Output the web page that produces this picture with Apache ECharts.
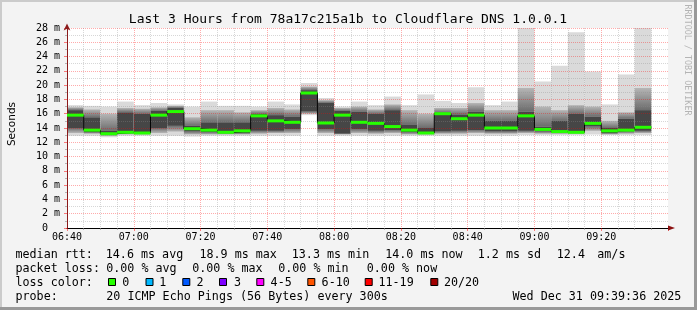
<!DOCTYPE html>
<html><head><meta charset="utf-8">
<script src="https://cdn.jsdelivr.net/npm/echarts@6/dist/echarts.min.js"></script>
<style>html,body{margin:0;padding:0;background:#f3f3f3;}#c{width:697px;height:310px;}</style>
</head><body><div id="c"></div>
<script>
// ---- data (ms) ----
const sampleTimes = ['06:40','06:45','06:50','06:55','07:00','07:05','07:10','07:15','07:20','07:25','07:30','07:35','07:40','07:45','07:50','07:55','08:00','08:05','08:10','08:15','08:20','08:25','08:30','08:35','08:40','08:45','08:50','08:55','09:00','09:05','09:10','09:15','09:20','09:25','09:30'];
const rttMin    = [12.9,12.9,12.7,12.9,12.9,12.9,12.9,12.8,12.9,12.9,12.9,12.9,12.9,12.9,15.8,12.9,12.9,12.9,12.9,12.9,12.9,12.9,12.9,12.9,12.9,12.9,12.9,13.0,13.0,13.0,13.0,13.1,13.0,13.0,13.0];
const rttLo2    = [13.3,13.2,12.9,13.1,13.1,13.3,13.5,13.1,13.1,13.1,13.1,13.2,13.3,13.3,16.0,13.3,13.1,13.3,13.2,13.3,13.1,13.1,13.2,13.2,13.3,13.2,13.2,13.3,13.2,13.2,13.2,13.6,13.1,13.2,13.3];
const rttLo1    = [14.0,13.4,13.1,13.3,13.2,14.0,14.3,13.5,13.4,13.3,13.3,13.6,13.6,13.8,16.3,13.8,13.2,13.8,13.6,13.7,13.4,13.2,13.5,13.6,13.7,13.5,13.5,13.6,13.5,13.3,13.3,14.2,13.3,13.5,13.6];
const rttMedian = [15.8,13.7,13.2,13.4,13.3,15.8,16.3,13.9,13.7,13.4,13.6,15.7,15.0,14.8,18.9,14.7,15.8,14.8,14.65,14.2,13.7,13.3,16.0,15.3,15.8,14.0,14.0,15.7,13.8,13.5,13.4,14.65,13.6,13.7,14.1];
const rttHi1    = [16.5,15.5,13.6,16.2,16.0,16.4,16.8,14.3,14.8,14.8,14.8,16.0,15.8,15.6,19.3,17.5,16.4,16.3,16.0,16.5,14.5,14.0,16.1,15.9,16.3,15.0,15.0,16.3,14.2,15.0,16.0,15.6,14.0,15.3,16.5];
const rttHi2    = [16.9,16.6,16.0,16.8,16.7,16.9,17.1,15.5,16.5,16.5,16.2,16.5,16.8,16.6,19.8,17.9,16.8,17.0,16.6,17.3,16.5,16.0,16.8,16.8,17.5,16.5,16.5,19.6,17.0,16.5,17.2,17.0,15.0,16.2,19.6];
const rttMax    = [17.2,17.1,17.0,17.7,17.2,17.5,17.3,17.0,17.7,17.1,17.1,17.0,17.7,17.3,20.3,18.2,17.0,17.7,17.2,18.4,17.2,18.7,17.8,17.5,19.7,17.2,17.7,28.0,20.5,22.7,27.4,21.9,17.3,21.5,28.0];
const xTickLabels = ['06:40','07:00','07:20','07:40','08:00','08:20','08:40','09:00','09:20'];
const yTickLabels = ['0  ','2 m','4 m','6 m','8 m','10 m','12 m','14 m','16 m','18 m','20 m','22 m','24 m','26 m','28 m'];
const lossLabels = ['0','1','2','3','4-5','6-10','11-19','20/20'];
const lossColors = ['#26ff00','#00b8ff','#0059ff','#7e00ff','#ff00ff','#ff5500','#ff0000','#a10000'];

// ---- derived ----
const toMin = s => { const p = s.split(':').map(Number); return p[0]*60 + p[1] - (6*60+40); };
const starts = sampleTimes.map(toMin);
const stepMin = starts[1] - starts[0];
const ends = starts.map((s,i) => i < starts.length-1 ? starts[i+1] : s + stepMin);
const smokeData = starts.map((s,i) => [s, ends[i], rttMin[i], rttLo2[i], rttLo1[i], rttHi1[i], rttHi2[i], rttMax[i], rttMedian[i]]);
const stepLine = starts.map((s,i) => [s, rttMedian[i]]).concat([[ends[ends.length-1], rttMedian[rttMedian.length-1]]]);

const MONO = 'DejaVu Sans Mono';
const chart = echarts.init(document.getElementById('c'), null, {renderer:'canvas', width:697, height:310});

const C_OUT = '#dadada', C_MID = '#b6b6b6', C_MIDIN = '#6c6c6c', C_CORE = '#464646';
const grad = (topC, botC) => new echarts.graphic.LinearGradient(0, 0, 0, 1, [{offset:0, color:topC}, {offset:1, color:botC}]);

function rect(api, t0, t1, a, b, fill) {
  const p0 = api.coord([t0, b]); const p1 = api.coord([t1, a]);
  return {type:'rect', shape:{x:p0[0], y:p0[1], width:p1[0]-p0[0], height:Math.max(0, p1[1]-p0[1])}, style:{fill:fill}};
}

const txt = (text, x, y) => ({type:'text', x:x, y:y, style:{text:text, font:'11.7px '+MONO, fill:'#000', align:'left', verticalAlign:'middle'}});

const legendEls = [];
[['median rtt:',15.5],['14.6 ms avg',105.8],['18.9 ms max',199.5],['13.3 ms min',291.8],['14.0 ms now',385.2],['1.2 ms sd',477.8],['12.4',556.8],['am/s',597.3]]
  .forEach(d => legendEls.push(txt(d[0], d[1], 254.5)));
[['packet loss:',15.5],['0.00 % avg',106.2],['0.00 % max',192.2],['0.00 % min',278.2],['0.00 % now',366.8]]
  .forEach(d => legendEls.push(txt(d[0], d[1], 268.5)));
legendEls.push(txt('loss color:', 15.5, 282.5));
const boxX = [108.5,146,182.8,219.5,256.8,307.8,365.2,430.8];
const lblX = [122.2,159.2,196.6,233.9,270.6,321.6,378.5,443.9];
lossLabels.forEach((l,i) => {
  legendEls.push({type:'rect', shape:{x:boxX[i], y:278.5, width:7, height:7}, style:{fill:lossColors[i], stroke:'#000', lineWidth:1}});
  legendEls.push(txt(l, lblX[i], 282.5));
});
legendEls.push(txt('probe:', 15.5, 296.5));
legendEls.push(txt('20 ICMP Echo Pings (56 Bytes) every 300s', 106.3, 296.5));
legendEls.push(txt('Wed Dec 31 09:39:36 2025', 512.5, 296.5));

const graphicEls = [
  {type:'rect', shape:{x:0,y:0,width:697,height:2}, style:{fill:'#cbcbcb'}, silent:true},
  {type:'rect', shape:{x:0,y:0,width:2,height:310}, style:{fill:'#cbcbcb'}, silent:true},
  {type:'rect', shape:{x:694,y:0,width:3,height:310}, style:{fill:'#999999'}, silent:true},
  {type:'rect', shape:{x:0,y:307,width:697,height:3}, style:{fill:'#999999'}, silent:true},
  {type:'text', x:348, y:19.5, style:{text:'Last 3 Hours from 78a17c215a1b to Cloudflare DNS 1.0.0.1', font:'13px '+MONO, fill:'#000', align:'center', verticalAlign:'middle'}},
  {type:'text', x:12, y:124, rotation:Math.PI/2, style:{text:'Seconds', font:'10.5px DejaVu Sans', fill:'#000', align:'center', verticalAlign:'middle'}},
  {type:'text', x:687, y:60, rotation:-Math.PI/2, style:{text:'RRDTOOL / TOBI OETIKER', font:'8.4px '+MONO, fill:'#b4b4b4', align:'center', verticalAlign:'middle'}},
  {type:'polygon', shape:{points:[[668,225.5],[675,228],[668,230.5]]}, style:{fill:'#8b1010'}, z:10}
].concat(legendEls);

const option = {
  animation:false,
  backgroundColor:'#f3f3f3',
  grid:{left:67, top:28, width:601, height:200, show:true, backgroundColor:'#ffffff', borderWidth:0, containLabel:false, outerBoundsMode:'none'},
  xAxis:{
    type:'value', min:0, max:180, interval:20, z:3,
    axisLine:{show:true, onZero:false, lineStyle:{color:'#000', width:1}},
    axisTick:{show:true, length:3, lineStyle:{color:'rgba(255,0,0,0.5)'}},
    minorTick:{show:true, splitNumber:4, length:2, lineStyle:{color:'rgba(140,140,140,0.6)'}},
    axisLabel:{show:true, margin:4, color:'#000', fontFamily:MONO, fontSize:10,
      formatter: v => { const i = Math.round(v/20); return (v % 20 === 0 && xTickLabels[i]) ? xTickLabels[i] : ''; }},
    splitLine:{show:true, showMinLine:true, showMaxLine:false, lineStyle:{color:'rgba(255,0,0,0.33)', type:[1,1], width:1}},
    minorSplitLine:{show:true, lineStyle:{color:'rgba(140,140,140,0.35)', type:[1,1], width:1}}
  },
  yAxis:{
    type:'value', min:0, max:28, interval:2, z:3,
    axisLine:{show:true, lineStyle:{color:'#8b1a1a', width:1}, symbol:['none','arrow'], symbolSize:[5,7], symbolOffset:[0,4.5]},
    axisTick:{show:true, length:3, lineStyle:{color:'rgba(255,0,0,0.5)'}},
    minorTick:{show:true, splitNumber:2, length:2, lineStyle:{color:'rgba(140,140,140,0.6)'}},
    axisLabel:{show:true, margin:7, color:'#000', fontFamily:MONO, fontSize:10,
      formatter: v => { const i = Math.round(v/2); return yTickLabels[i] || ''; }},
    splitLine:{show:true, showMinLine:false, lineStyle:{color:'rgba(255,0,0,0.33)', type:[1,1], width:1}},
    minorSplitLine:{show:true, lineStyle:{color:'rgba(140,140,140,0.35)', type:[1,1], width:1}}
  },
  series:[
    {
      type:'custom', name:'smoke', z:2, data:smokeData, encode:{x:[0,1], y:[2,7]},
      renderItem:(params, api) => {
        const t0 = api.value(0), t1 = api.value(1);
        const mn = api.value(2), lo2 = api.value(3), lo1 = api.value(4), hi1 = api.value(5), hi2 = api.value(6), mx = api.value(7);
        return {type:'group', children:[
          rect(api, t0, t1, mn, mx, C_OUT),
          rect(api, t0, t1, lo2, lo1, grad(C_MIDIN, C_MID)),
          rect(api, t0, t1, hi1, hi2, grad(C_MID, C_MIDIN)),
          rect(api, t0, t1, lo1, hi1, C_CORE)
        ]};
      }
    },
    {
      type:'line', name:'median-step', z:4, step:'end', data:stepLine, symbol:'none',
      lineStyle:{color:'#000', width:1}, silent:true
    },
    {
      type:'custom', name:'median', z:5, data:smokeData, encode:{x:[0,1], y:8},
      renderItem:(params, api) => {
        const t0 = api.value(0), t1 = api.value(1), m = api.value(8);
        const p0 = api.coord([t0, m]); const p1 = api.coord([t1, m]);
        return {type:'rect', shape:{x:p0[0], y:p0[1]-1.5, width:p1[0]-p0[0], height:3}, style:{fill:lossColors[0]}};
      }
    }
  ],
  graphic:{elements:graphicEls}
};
chart.setOption(option);
</script>
</body></html>
